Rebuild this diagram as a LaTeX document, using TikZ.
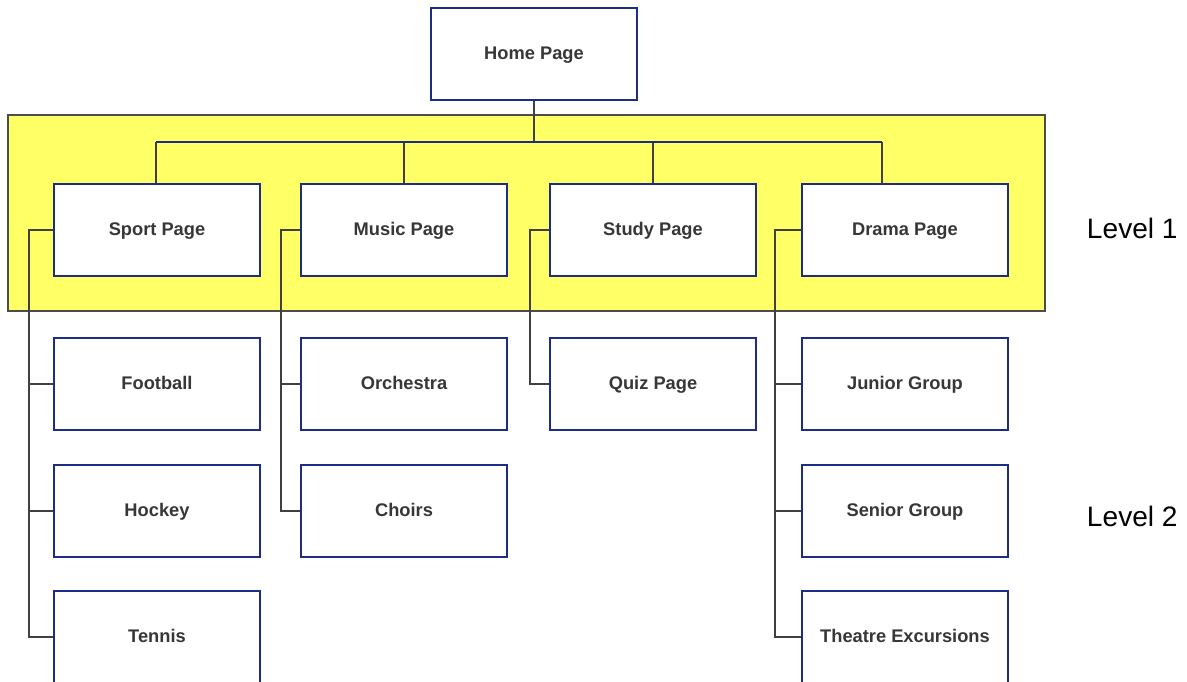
\documentclass[tikz,border=0pt]{standalone}
\usepackage{fontspec}
\setmainfont{Liberation Sans}
\definecolor{boxblue}{RGB}{28,45,135}
\definecolor{bandyellow}{RGB}{255,255,102}
\definecolor{textgray}{RGB}{55,55,55}
\tikzset{
  page/.style={draw=boxblue, line width=1.8pt, fill=white, minimum width=5.15cm,
    minimum height=2.3cm, inner sep=0pt, text=textgray, text height=0.9em,
    text depth=0.18em, font=\bfseries\fontsize{13}{15}\selectfont},
  band/.style={fill=bandyellow, draw=black!70, line width=1pt},
  link/.style={draw=black!75, line width=1pt},
  bar/.style={draw=boxblue, line width=1.5pt},
  level/.style={font=\fontsize{20}{24}\selectfont, anchor=west}
}

\begin{document}
\begin{tikzpicture}[x=0.025cm, y=-0.025cm]
    \useasboundingbox (0,0) rectangle (1187,682);

    % Banda amarilla (nivel 1)
    \draw[band] (8,115) rectangle (1045,311);

    % Paginas
    \node[page] (home) at (534,54) {Home Page};

    \node[page] (sport) at (157,230) {Sport Page};
    \node[page] (music) at (404,230) {Music Page};
    \node[page] (study) at (653,230) {Study Page};
    \node[page] (drama) at (905,230) {Drama Page};

    \node[page] (football) at (157,384) {Football};
    \node[page] (hockey)   at (157,511) {Hockey};
    \node[page] (tennis)   at (157,637) {Tennis};

    \node[page] (orchestra) at (404,384) {Orchestra};
    \node[page] (choirs)    at (404,511) {Choirs};

    \node[page] (quiz) at (653,384) {Quiz Page};

    \node[page] (junior)  at (905,384) {Junior Group};
    \node[page] (senior)  at (905,511) {Senior Group};
    \node[page] (theatre) at (905,637) {Theatre Excursions};

    % Barra horizontal
    \coordinate (barL) at (156,142);
    \coordinate (barR) at (882,142);
    \coordinate (dramaTop) at (882,184);
    \draw[link] (home.south) -- (home.south |- barL);
    \draw[link] (barL) -- (barL |- sport.north);
    \draw[link] (music.north |- barL) -- (music.north);
    \draw[link] (study.north |- barL) -- (study.north);
    \draw[link] (barR) -- (dramaTop);
    \draw[bar] (barL) -- (barR);

    % Troncos del nivel 2
    \coordinate (sportT) at (29,230);
    \coordinate (musicT) at (281,230);
    \coordinate (studyT) at (530,230);
    \coordinate (dramaT) at (775,230);

    \draw[link] (sport.west) -- (sportT) |- (tennis.west);
    \draw[link] (sportT |- football.west) -- (football.west);
    \draw[link] (sportT |- hockey.west) -- (hockey.west);

    \draw[link] (music.west) -- (musicT) |- (choirs.west);
    \draw[link] (musicT |- orchestra.west) -- (orchestra.west);

    \draw[link] (study.west) -- (studyT) |- (quiz.west);

    \draw[link] (drama.west) -- (dramaT) |- (theatre.west);
    \draw[link] (dramaT |- junior.west) -- (junior.west);
    \draw[link] (dramaT |- senior.west) -- (senior.west);

    % Etiquetas de nivel
    \node[level] (lvl1) at (1082,228) {Level 1};
    \node[level] (lvl2) at (1082,516) {Level 2};

\end{tikzpicture}
\end{document}
